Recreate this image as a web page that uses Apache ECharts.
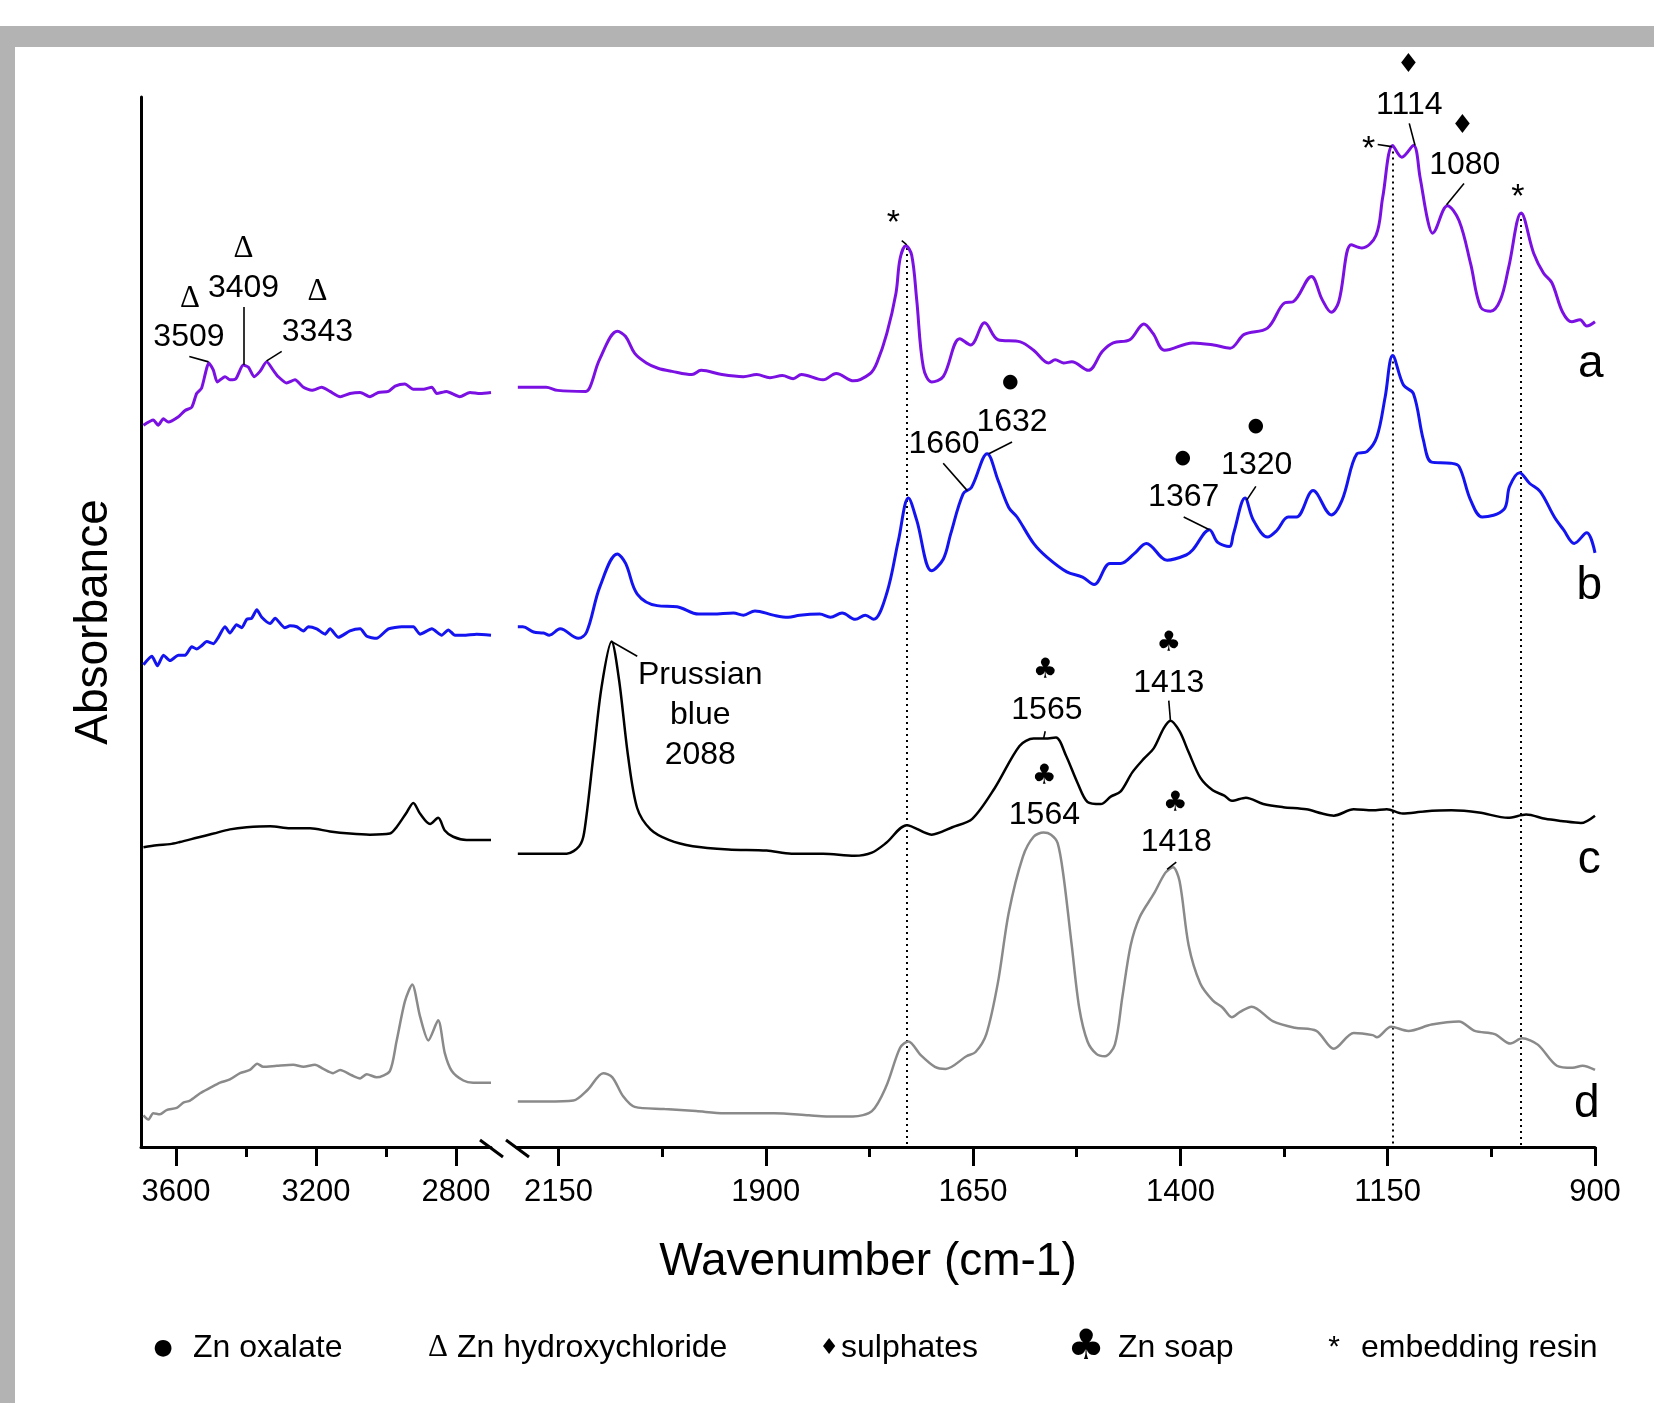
<!DOCTYPE html>
<html><head><meta charset="utf-8">
<script src="https://cdn.jsdelivr.net/npm/echarts@6/dist/echarts.min.js"></script>
<style>html,body{margin:0;padding:0;background:#fff}#chart{width:1654px;height:1403px}</style>
</head><body><div id="chart"></div>
<script>
// ---- axis ticks ----
const ticksHigh = [3600, 3200, 2800];
const minorTicksHigh = [3400, 3000];
const ticksLow = [2150, 1900, 1650, 1400, 1150, 900];
const minorTicksLow = [2025, 1775, 1525, 1275, 1025];

// ---- spectra: [wavenumber (cm-1), absorbance (offset, a.u.)] ----
const specA_high = [[3693,0.684],[3665,0.689],[3651,0.684],[3636,0.690],[3622,0.687],[3593,0.692],[3574,0.698],[3555,0.701],[3541,0.714],[3527,0.719],[3506,0.743],[3493,0.736],[3482,0.725],[3460,0.730],[3446,0.727],[3429,0.728],[3408,0.741],[3393,0.739],[3377,0.730],[3360,0.735],[3341,0.744],[3322,0.736],[3308,0.730],[3284,0.724],[3260,0.727],[3236,0.720],[3212,0.717],[3184,0.720],[3160,0.716],[3131,0.711],[3103,0.714],[3074,0.715],[3046,0.711],[3022,0.715],[2993,0.716],[2974,0.721],[2946,0.723],[2922,0.718],[2893,0.718],[2869,0.720],[2855,0.714],[2827,0.716],[2789,0.711],[2760,0.715],[2731,0.714],[2700,0.715]];
const specA_low = [[2199,0.720],[2165,0.720],[2151,0.717],[2117,0.716],[2112,0.720],[2100,0.747],[2079,0.773],[2069,0.768],[2058,0.752],[2044,0.743],[2030,0.738],[2013,0.735],[1989,0.732],[1978,0.736],[1953,0.732],[1927,0.730],[1911,0.732],[1895,0.729],[1880,0.731],[1867,0.728],[1857,0.732],[1831,0.727],[1815,0.733],[1794,0.726],[1774,0.733],[1766,0.743],[1754,0.771],[1743,0.809],[1738,0.842],[1731,0.854],[1724,0.845],[1718,0.803],[1710,0.739],[1700,0.725],[1686,0.730],[1666,0.766],[1653,0.760],[1636,0.781],[1620,0.765],[1593,0.763],[1577,0.755],[1559,0.743],[1551,0.746],[1541,0.743],[1531,0.744],[1511,0.736],[1494,0.754],[1481,0.762],[1461,0.765],[1444,0.780],[1433,0.771],[1419,0.755],[1385,0.762],[1360,0.760],[1340,0.757],[1323,0.770],[1295,0.776],[1274,0.800],[1264,0.801],[1242,0.825],[1229,0.803],[1218,0.791],[1209,0.801],[1194,0.855],[1181,0.852],[1164,0.864],[1156,0.900],[1144,0.949],[1133,0.938],[1119,0.949],[1111,0.919],[1102,0.879],[1096,0.866],[1078,0.892],[1064,0.878],[1050,0.837],[1038,0.796],[1026,0.792],[1014,0.803],[1004,0.834],[989,0.885],[974,0.847],[962,0.828],[952,0.819],[939,0.791],[928,0.782],[918,0.784],[910,0.778],[900,0.782]];

const specB_high = [[3693,0.457],[3669,0.465],[3653,0.456],[3636,0.466],[3617,0.461],[3593,0.466],[3574,0.466],[3555,0.474],[3541,0.472],[3527,0.475],[3512,0.479],[3493,0.477],[3479,0.483],[3460,0.493],[3446,0.487],[3427,0.495],[3412,0.492],[3398,0.500],[3384,0.501],[3369,0.509],[3355,0.502],[3331,0.496],[3317,0.501],[3289,0.492],[3274,0.494],[3255,0.493],[3236,0.489],[3222,0.493],[3198,0.491],[3174,0.486],[3160,0.491],[3136,0.483],[3103,0.489],[3074,0.491],[3055,0.484],[3027,0.482],[2993,0.491],[2955,0.493],[2922,0.493],[2903,0.486],[2869,0.491],[2841,0.485],[2822,0.490],[2803,0.485],[2779,0.485],[2741,0.486],[2700,0.485]];
const specB_low = [[2199,0.493],[2193,0.493],[2180,0.488],[2168,0.487],[2161,0.485],[2148,0.491],[2126,0.482],[2116,0.488],[2100,0.531],[2079,0.562],[2069,0.553],[2055,0.524],[2031,0.513],[2007,0.512],[1981,0.505],[1964,0.505],[1939,0.506],[1927,0.504],[1913,0.508],[1891,0.504],[1873,0.502],[1859,0.504],[1835,0.505],[1822,0.502],[1808,0.506],[1792,0.500],[1780,0.504],[1770,0.500],[1754,0.525],[1740,0.575],[1728,0.615],[1718,0.594],[1700,0.546],[1686,0.557],[1677,0.581],[1662,0.619],[1652,0.625],[1633,0.657],[1620,0.632],[1607,0.606],[1597,0.597],[1577,0.572],[1561,0.559],[1537,0.545],[1518,0.540],[1504,0.533],[1485,0.553],[1472,0.553],[1456,0.562],[1441,0.572],[1416,0.556],[1393,0.561],[1385,0.566],[1365,0.585],[1355,0.573],[1341,0.569],[1336,0.581],[1322,0.615],[1312,0.594],[1295,0.578],[1284,0.584],[1270,0.597],[1260,0.597],[1240,0.622],[1218,0.599],[1205,0.613],[1187,0.657],[1175,0.659],[1163,0.673],[1153,0.711],[1144,0.750],[1131,0.722],[1119,0.714],[1107,0.670],[1097,0.649],[1074,0.648],[1064,0.645],[1050,0.613],[1036,0.597],[1010,0.604],[1003,0.626],[991,0.639],[979,0.629],[966,0.621],[949,0.597],[938,0.585],[925,0.572],[910,0.582],[900,0.563]];

const specC_high = [[3693,0.284],[3655,0.286],[3617,0.287],[3589,0.289],[3541,0.293],[3493,0.297],[3446,0.301],[3398,0.303],[3331,0.304],[3274,0.302],[3217,0.302],[3160,0.299],[3103,0.297],[3046,0.296],[2989,0.297],[2970,0.303],[2941,0.317],[2922,0.326],[2903,0.316],[2874,0.306],[2851,0.312],[2832,0.300],[2808,0.294],[2770,0.291],[2700,0.291]];
const specC_low = [[2199,0.278],[2140,0.278],[2125,0.285],[2119,0.298],[2108,0.370],[2098,0.436],[2086,0.479],[2077,0.443],[2066,0.370],[2055,0.321],[2039,0.301],[2017,0.291],[1988,0.285],[1945,0.282],[1899,0.281],[1869,0.278],[1831,0.278],[1793,0.276],[1772,0.279],[1755,0.288],[1730,0.305],[1700,0.296],[1675,0.303],[1651,0.311],[1624,0.340],[1594,0.380],[1577,0.387],[1563,0.387],[1550,0.388],[1538,0.371],[1524,0.345],[1512,0.327],[1496,0.325],[1484,0.332],[1472,0.337],[1458,0.355],[1444,0.368],[1432,0.378],[1420,0.397],[1412,0.404],[1401,0.394],[1390,0.374],[1376,0.350],[1361,0.338],[1347,0.333],[1338,0.328],[1321,0.331],[1300,0.325],[1276,0.322],[1248,0.320],[1229,0.316],[1215,0.314],[1191,0.320],[1168,0.319],[1151,0.320],[1132,0.316],[1106,0.318],[1073,0.319],[1040,0.317],[1005,0.312],[983,0.315],[960,0.311],[941,0.309],[917,0.307],[900,0.314]];

const specD_high = [[3693,0.030],[3679,0.026],[3665,0.032],[3646,0.031],[3627,0.035],[3598,0.037],[3579,0.042],[3560,0.044],[3531,0.051],[3503,0.056],[3474,0.061],[3446,0.064],[3417,0.070],[3389,0.073],[3368,0.079],[3351,0.076],[3312,0.077],[3265,0.078],[3236,0.076],[3203,0.078],[3179,0.074],[3151,0.070],[3131,0.073],[3098,0.068],[3074,0.065],[3055,0.069],[3027,0.066],[2989,0.072],[2970,0.100],[2946,0.138],[2925,0.154],[2903,0.124],[2879,0.101],[2851,0.120],[2832,0.089],[2812,0.072],[2779,0.063],[2751,0.061],[2700,0.061]];
const specD_low = [[2199,0.043],[2165,0.043],[2132,0.044],[2115,0.054],[2096,0.070],[2085,0.066],[2072,0.048],[2058,0.038],[2022,0.036],[1984,0.034],[1950,0.032],[1890,0.032],[1848,0.030],[1827,0.029],[1795,0.029],[1772,0.034],[1755,0.057],[1738,0.094],[1728,0.100],[1713,0.087],[1696,0.076],[1683,0.074],[1658,0.086],[1647,0.090],[1634,0.107],[1620,0.156],[1607,0.222],[1590,0.275],[1577,0.294],[1565,0.298],[1556,0.296],[1548,0.288],[1541,0.257],[1531,0.191],[1522,0.132],[1512,0.100],[1501,0.088],[1491,0.086],[1479,0.097],[1470,0.142],[1460,0.191],[1449,0.218],[1432,0.240],[1418,0.260],[1409,0.265],[1401,0.252],[1390,0.191],[1376,0.155],[1361,0.139],[1349,0.132],[1338,0.123],[1328,0.128],[1314,0.133],[1288,0.119],[1262,0.113],[1236,0.110],[1215,0.093],[1191,0.108],[1168,0.106],[1163,0.104],[1146,0.114],[1125,0.110],[1097,0.116],[1064,0.119],[1045,0.110],[1021,0.107],[1002,0.098],[988,0.103],[969,0.097],[946,0.077],[927,0.075],[915,0.077],[900,0.073]];

// ---- annotations: [wavenumber, absorbance, text, kind] ----
const annotHigh = [[3560,0.804,'Δ','delta'],[3563,0.767,'3509','num'],[3407,0.851,'Δ','delta'],[3407,0.814,'3409','num'],[3196,0.810,'Δ','delta'],[3196,0.772,'3343','num']];
const annotLow = [[1746,0.875,'*','star'],[1605,0.725,'●','dot'],[1603,0.687,'1632','num'],[1685,0.666,'1660','num'],[1397,0.653,'●','dot'],[1396,0.616,'1367','num'],[1309,0.683,'●','dot'],[1308,0.646,'1320','num'],[1125,1.025,'♦','diamond'],[1124,0.987,'1114','num'],[1173,0.945,'*','star'],[1060,0.967,'♦','diamond'],[1057,0.930,'1080','num'],[993,0.900,'*','star'],[1979,0.409,'Prussian\nblue\n2088','num'],[1563,0.451,'♣','club'],[1561,0.414,'1565','num'],[1414,0.477,'♣','club'],[1414,0.440,'1413','num'],[1564,0.351,'♣','club'],[1564,0.314,'1564','num'],[1406,0.325,'♣','club'],[1405,0.289,'1418','num'],[905,0.742,'a','letter'],[907,0.531,'b','letter'],[907,0.272,'c','letter'],[910,0.040,'d','letter']];
const leadersHigh = [[[3562,0.749],[3507,0.744]],[[3406,0.796],[3406,0.741]],[[3298,0.754],[3341,0.745]]];
const leadersLow = [[[1736,0.859],[1730,0.855]],[[1603,0.668],[1631,0.657]],[[1686,0.648],[1657,0.622]],[[1396,0.597],[1365,0.585]],[[1309,0.626],[1320,0.613]],[[1124,0.970],[1117,0.949]],[[1162,0.950],[1145,0.948]],[[1058,0.913],[1079,0.893]],[[2055,0.465],[2086,0.479]],[[1563,0.394],[1565,0.387]],[[1414,0.423],[1412,0.404]],[[1405,0.270],[1416,0.263]]];
const resinMarkers = [[1730,0.852],[1144,0.949],[989,0.885]];

const legendItems = [['●','Zn oxalate'],['Δ','Zn hydroxychloride'],['♦','sulphates'],['♣','Zn soap'],['*','embedding resin']];

// ---- styling ----
const FONT = '"Liberation Sans", Arial, Helvetica, sans-serif';
const SERIF = '"Liberation Serif", "Times New Roman", serif';
const SYM = '"DejaVu Sans", sans-serif';
const kindStyle = {
  num: {fontSize: 32, fontFamily: FONT, lineHeight: 40},
  delta: {fontSize: 31, fontFamily: SERIF},
  dot: {fontSize: 19, fontFamily: SYM},
  diamond: {fontSize: 26, fontFamily: SYM},
  club: {fontSize: 28, fontFamily: SYM},
  star: {fontSize: 34, fontFamily: FONT},
  letter: {fontSize: 46, fontFamily: FONT}
};
const colors = {a: '#7a10e2', b: '#1414f0', c: '#000000', d: '#8a8a8a'};

const GRID_TOP = 97, GRID_H = 1050;
function xMain(gi, min, max, ticks) {
  return {gridIndex: gi, type: 'value', min, max, inverse: true, position: 'bottom', offset: 0,
    axisLine: {show: true, onZero: false, lineStyle: {color: '#000', width: 3}},
    axisTick: {show: true, customValues: ticks, length: 19, lineStyle: {color: '#000', width: 3}},
    axisLabel: {show: true, customValues: ticks, fontSize: 31, fontFamily: FONT, color: '#000', margin: 30,
      formatter: v => String(v)},
    splitLine: {show: false}};
}
function xMinor(gi, min, max, ticks) {
  return {gridIndex: gi, type: 'value', min, max, inverse: true, position: 'bottom', offset: 0,
    axisLine: {show: false, onZero: false},
    axisTick: {show: true, customValues: ticks, length: 10, lineStyle: {color: '#000', width: 3}},
    axisLabel: {show: false, customValues: ticks},
    splitLine: {show: false}};
}
function lineSeries(xi, data, color, width, smooth) {
  return {type: 'line', xAxisIndex: xi, yAxisIndex: xi, data, showSymbol: false, symbol: 'none',
    smooth, lineStyle: {color, width}, silent: true, emphasis: {disabled: true}, z: 3};
}
function labelSeries(xi, list) {
  return {type: 'scatter', xAxisIndex: xi, yAxisIndex: xi, symbolSize: 0, clip: false, silent: true,
    itemStyle: {opacity: 1, color: '#000'},
    emphasis: {disabled: true}, z: 5,
    data: list.map(([w, a, t, k]) => ({value: [w, a], label: Object.assign({show: true, position: 'inside',
      formatter: t, color: '#000', opacity: 1, textBorderWidth: 0, align: 'center', verticalAlign: 'middle'}, kindStyle[k])}))};
}
function leaderSeries(xi, list) {
  return {type: 'lines', coordinateSystem: 'cartesian2d', xAxisIndex: xi, yAxisIndex: xi, silent: true,
    data: list.map(c => ({coords: c})), lineStyle: {color: '#000', width: 1.6, opacity: 1, curveness: 0}, z: 4};
}

const legendGraphics = [];
const legendPos = [[163, 193, 22, SYM], [438, 457, 31, SERIF], [829, 841, 22, SYM], [1086, 1118, 42, SYM], [1334, 1361, 30, FONT]];
legendItems.forEach(([sym, txt], i) => {
  const [sx, tx, sf, sfam] = legendPos[i];
  legendGraphics.push({type: 'text', x: sx, y: 1348, style: {text: sym, fill: '#000', font: sf + 'px ' + sfam, textAlign: 'center', textVerticalAlign: 'middle', verticalAlign: 'middle'}});
  legendGraphics.push({type: 'text', x: tx, y: 1348, style: {text: txt, fill: '#000', font: '32px ' + FONT, textAlign: 'left', textVerticalAlign: 'middle', verticalAlign: 'middle'}});
});

const chart = echarts.init(document.getElementById('chart'));
chart.setOption({
  animation: false,
  backgroundColor: '#ffffff',
  grid: [
    {left: 141, top: GRID_TOP, width: 350, height: GRID_H},
    {left: 517, top: GRID_TOP, width: 1078, height: GRID_H}
  ],
  xAxis: [
    xMain(0, 2700, 3700, ticksHigh),
    xMain(1, 900, 2200, ticksLow),
    xMinor(0, 2700, 3700, minorTicksHigh),
    xMinor(1, 900, 2200, minorTicksLow)
  ],
  yAxis: [
    {gridIndex: 0, type: 'value', min: 0, max: 0.995,
      axisLine: {show: true, onZero: false, lineStyle: {color: '#000', width: 3}},
      axisTick: {show: false}, axisLabel: {show: false}, splitLine: {show: false},
      name: 'Absorbance', nameLocation: 'middle', nameRotate: 90, nameGap: 24,
      nameTextStyle: {fontSize: 46, fontFamily: FONT, color: '#000'}},
    {gridIndex: 1, type: 'value', min: 0, max: 0.995, show: false,
      axisLine: {show: false}, axisTick: {show: false}, axisLabel: {show: false}, splitLine: {show: false}}
  ],
  series: [
    lineSeries(0, specA_high, colors.a, 3, 0.2),
    lineSeries(1, specA_low, colors.a, 3, 0.35),
    lineSeries(0, specB_high, colors.b, 3, 0.2),
    lineSeries(1, specB_low, colors.b, 3, 0.35),
    lineSeries(0, specC_high, colors.c, 2.5, 0.3),
    lineSeries(1, specC_low, colors.c, 2.5, 0.3),
    lineSeries(0, specD_high, colors.d, 2.5, 0.25),
    lineSeries(1, specD_low, colors.d, 2.5, 0.3),
    {type: 'lines', coordinateSystem: 'cartesian2d', xAxisIndex: 1, yAxisIndex: 1, silent: true, z: 2,
      data: resinMarkers.map(([w, a]) => ({coords: [[w, a], [w, 0]]})),
      lineStyle: {color: '#000', width: 2, type: [2, 4], opacity: 1}},
    leaderSeries(0, leadersHigh),
    leaderSeries(1, leadersLow),
    labelSeries(0, annotHigh),
    labelSeries(1, annotLow)
  ],
  graphic: [
    {type: 'rect', shape: {x: 0, y: 26, width: 1654, height: 21}, style: {fill: '#b3b3b3'}, silent: true},
    {type: 'rect', shape: {x: 0, y: 26, width: 15, height: 1377}, style: {fill: '#b3b3b3'}, silent: true},
    {type: 'line', shape: {x1: 480, y1: 1140, x2: 503, y2: 1157}, style: {stroke: '#000', lineWidth: 3}, silent: true},
    {type: 'line', shape: {x1: 506, y1: 1140, x2: 529, y2: 1157}, style: {stroke: '#000', lineWidth: 3}, silent: true},
    {type: 'text', x: 868, y: 1262, style: {text: 'Wavenumber (cm-1)', fill: '#000', font: '46px ' + FONT, textAlign: 'center', textVerticalAlign: 'middle', verticalAlign: 'middle'}, silent: true}
  ].concat(legendGraphics)
});
</script>
</body></html>
